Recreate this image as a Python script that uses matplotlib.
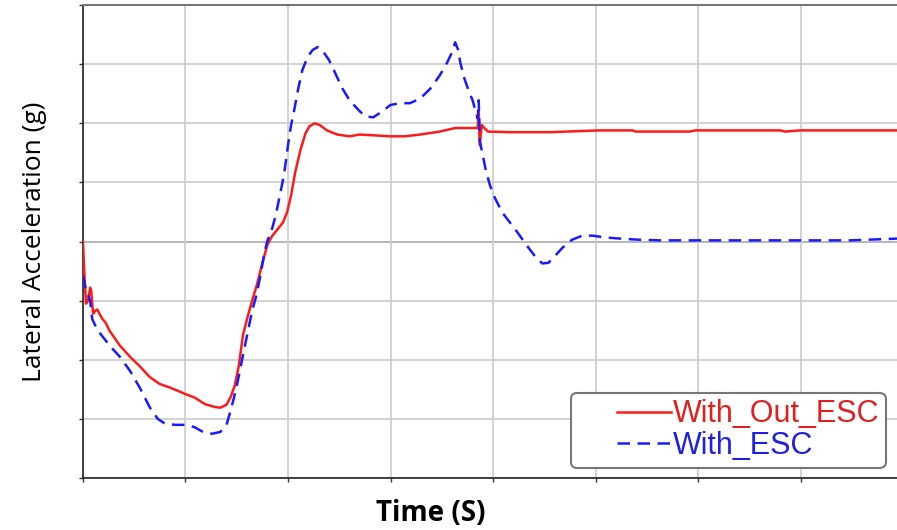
import matplotlib.pyplot as plt
from matplotlib.legend_handler import HandlerLine2D

# lateral acceleration vs time
t_no_esc = [0, 0.01, 0.02, 0.03, 0.05, 0.07, 0.08, 0.09, 0.10, 0.12, 0.14, 0.16, 0.19, 0.22, 0.26,
            0.36, 0.46, 0.56, 0.65, 0.75, 0.85, 1.0, 1.09, 1.19, 1.29, 1.34, 1.40, 1.44, 1.48, 1.52,
            1.56, 1.60, 1.65, 1.70, 1.75, 1.80, 1.84, 1.89, 1.95, 1.99, 2.03, 2.07, 2.12, 2.17, 2.21,
            2.26, 2.31, 2.38, 2.48, 2.60, 2.70, 2.80, 3.0, 3.14, 3.29, 3.48, 3.63, 3.78, 3.85, 3.86,
            3.87, 3.89, 3.91, 3.95, 4.17, 4.56, 5.04, 5.36, 5.39, 5.92, 5.97, 6.80, 6.85, 7.0, 7.94]
a_no_esc = [0, -0.41, -0.75, -1.05, -1.0, -0.78, -0.83, -1.05, -1.22, -1.17, -1.15, -1.22, -1.31, -1.37, -1.51,
            -1.76, -1.95, -2.12, -2.29, -2.41, -2.47, -2.58, -2.64, -2.75, -2.80, -2.81, -2.76, -2.63, -2.44, -2.10,
            -1.59, -1.31, -1.0, -0.71, -0.36, -0.05, 0.08, 0.19, 0.32, 0.49, 0.78, 1.17, 1.54, 1.83, 1.95,
            2.0, 1.97, 1.88, 1.81, 1.78, 1.81, 1.80, 1.78, 1.78, 1.81, 1.86, 1.92, 1.92, 1.92, 2.22,
            1.63, 1.97, 1.93, 1.86, 1.85, 1.85, 1.88, 1.88, 1.86, 1.86, 1.88, 1.88, 1.86, 1.88, 1.88]

t_esc = [0, 0.02, 0.04, 0.07, 0.09, 0.12, 0.17, 0.26, 0.36, 0.46, 0.56, 0.65, 0.73, 0.80, 0.90,
         1.0, 1.09, 1.17, 1.26, 1.34, 1.40, 1.43, 1.47, 1.51, 1.56, 1.60, 1.65, 1.69, 1.73, 1.77,
         1.80, 1.84, 1.88, 1.92, 1.96, 2.0, 2.03, 2.06, 2.10, 2.14, 2.19, 2.24, 2.29, 2.34, 2.40,
         2.46, 2.53, 2.60, 2.69, 2.75, 2.83, 2.91, 3.0, 3.09, 3.19, 3.29, 3.39, 3.48, 3.55, 3.60,
         3.63, 3.66, 3.68, 3.72, 3.76, 3.80, 3.84, 3.85, 3.86, 3.87, 3.89, 3.93, 3.97, 4.02, 4.09,
         4.17, 4.24, 4.33, 4.41, 4.48, 4.54, 4.60, 4.68, 4.77, 4.87, 4.97, 5.09, 5.24, 5.43, 5.63,
         6.02, 6.51, 7.0, 7.48, 7.94]
a_esc = [-0.58, -0.75, -0.86, -1.0, -1.31, -1.42, -1.56, -1.76, -1.95, -2.19, -2.49, -2.80, -3.0, -3.08, -3.10,
         -3.10, -3.14, -3.22, -3.25, -3.22, -3.10, -2.92, -2.66, -2.36, -1.93, -1.59, -1.17, -0.92, -0.58, -0.19,
         0.02, 0.19, 0.44, 0.78, 1.12, 1.63, 1.97, 2.22, 2.59, 2.90, 3.12, 3.24, 3.29, 3.22, 3.07,
         2.85, 2.59, 2.39, 2.22, 2.12, 2.10, 2.19, 2.31, 2.34, 2.34, 2.42, 2.59, 2.81, 3.02, 3.20,
         3.37, 3.24, 3.03, 2.76, 2.56, 2.39, 2.14, 2.08, 2.39, 1.71, 1.54, 1.20, 0.95, 0.73, 0.49,
         0.31, 0.15, -0.07, -0.25, -0.37, -0.36, -0.25, -0.10, 0.03, 0.10, 0.10, 0.07, 0.05, 0.03, 0.02,
         0.02, 0.02, 0.02, 0.02, 0.05]


class PaddedLine(HandlerLine2D):
    # legend line that leaves some empty room on its left
    def create_artists(self, legend, orig_handle, xdescent, ydescent, width, height, fontsize, trans):
        pad = width - 1.75 * fontsize
        return super().create_artists(legend, orig_handle, xdescent - pad, ydescent,
                                      width - pad, height, fontsize, trans)


plt.rcParams['font.family'] = ['Liberation Sans', 'DejaVu Sans']

fig = plt.figure(figsize=(8.97, 5.30), dpi=100)
ax = fig.add_axes([0.0925, 0.098, 0.9075, 0.8925])

ax.plot(t_no_esc, a_no_esc, color='#ff1a1a', lw=1.8, label='With_Out_ESC', zorder=3)
ax.plot(t_esc, a_esc, color='#1a1aff', lw=1.8, dashes=(5, 3), label='With_ESC', zorder=3)

ax.set_xlim(0, 7.94)
ax.set_ylim(-4, 4)
ax.set_xticks(range(0, 8))
ax.set_yticks(range(-4, 5))
ax.set_xticklabels([])
ax.set_yticklabels([])
ax.tick_params(direction='out', length=3, width=1, color='#333333')
ax.grid(True, color='#cccccc', lw=1.2, zorder=0)
ax.axhline(0, color='#333333', lw=1.2, zorder=1)

ax.spines['right'].set_visible(False)
ax.spines['top'].set_color('#777777')
ax.spines['top'].set_linewidth(1.5)
ax.spines['left'].set_color('#222222')
ax.spines['bottom'].set_color('#222222')
ax.spines['left'].set_linewidth(1.2)
ax.spines['bottom'].set_linewidth(1.2)

ax.set_ylabel('Lateral Acceleration (g)', fontsize=19, family=['Open Sans', 'DejaVu Sans'])
ax.yaxis.set_label_coords(-0.044, 0.5)
ax.set_xlabel('Time (S)', fontsize=20, fontweight='bold', family=['Open Sans', 'DejaVu Sans'])
ax.xaxis.set_label_coords(0.427, -0.045)

leg = ax.legend(loc='lower right', bbox_to_anchor=(0.986, 0.022), fontsize=22, handlelength=3.05,
                handletextpad=0.05, borderpad=0.22, labelspacing=0.05, fancybox=True,
                framealpha=1, edgecolor='#777777', borderaxespad=0,
                handler_map={plt.Line2D: PaddedLine()})
leg.get_frame().set_linewidth(1.5)
for txt, c in zip(leg.get_texts(), ['#e02020', '#2020e0']):
    txt.set_color(c)

fig.savefig('out.png', dpi=100)
